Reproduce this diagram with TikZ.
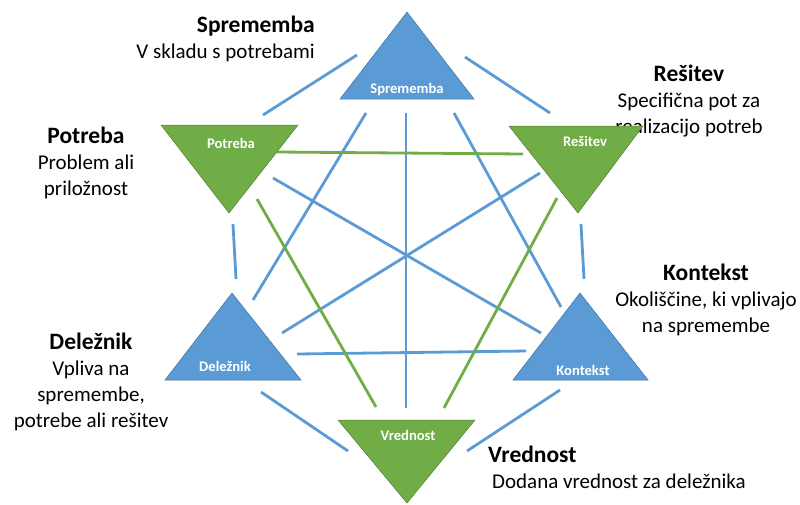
\documentclass[tikz,border=0pt]{standalone}
\usepackage{fontspec}
\setmainfont{Carlito}
\usetikzlibrary{positioning}
\definecolor{triblue}{HTML}{5B9BD5}
\definecolor{triblueline}{HTML}{41719C}
\definecolor{trigreen}{HTML}{70AD47}
\definecolor{trigreenline}{HTML}{507E32}
\newcommand{\head}[1]{{\fontsize{23.5}{26}\selectfont\bfseries #1}}
\tikzset{
  bline/.style={triblue, line width=2.8pt},
  gline/.style={trigreen, line width=2.8pt},
  btri/.style={fill=triblue, draw=triblueline, line width=0.5pt},
  gtri/.style={fill=trigreen, draw=trigreenline, line width=0.5pt},
  trilabel/.style={text=white, font=\fontsize{14.6}{16}\selectfont\bfseries, inner sep=0pt, anchor=base},
  note/.style={font=\fontsize{21}{26}\selectfont, inner sep=0pt, anchor=base}
}
\begin{document}
\begin{tikzpicture}[x=1pt,y=-1pt]
 %the change hexagon
  \useasboundingbox (0,0) rectangle (800,504);
  %notes (base = last line)
    \node[note, anchor=base east, align=right] (nSpr) at (315,58) {\head{Sprememba}\\V skladu s potrebami};
    \node[note, align=center] (nPot) at (86,195) {\head{Potreba}\\Problem ali\\priložnost};
    \node[note, align=center] (nRes) at (689,133) {\head{Rešitev}\\Specifična pot za\\realizacijo potreb};
    \node[note, align=center] (nKon) at (706,332) {\head{Kontekst}\\Okoliščine, ki vplivajo\\na spremembe};
    \node[note, align=center] (nDel) at (91,427) {\head{Deležnik}\\Vpliva na\\spremembe,\\potrebe ali rešitev};
    \node[note, anchor=base west, align=left] (nVre) at (488,488) {\head{Vrednost}\\\hspace*{4pt}Dodana vrednost za deležnika};
  %line ends
    \coordinate (sp-po) at (357,55);  \coordinate (po-sp) at (263,115);
    \coordinate (sp-re) at (465,57);  \coordinate (re-sp) at (550,113);
    \coordinate (po-de) at (233,224); \coordinate (de-po) at (236,279);
    \coordinate (re-ko) at (581,224); \coordinate (ko-re) at (584,279);
    \coordinate (de-vr) at (261,392); \coordinate (vr-de) at (348,451);
    \coordinate (ko-vr) at (560,390); \coordinate (vr-ko) at (467,451);
    \coordinate (sp-de) at (366,113); \coordinate (de-sp) at (253,300);
    \coordinate (sp-vr) at (406,113); \coordinate (vr-sp) at (406,408);
    \coordinate (sp-ko) at (454,113); \coordinate (ko-sp) at (561,307);
    \coordinate (po-ko) at (273,178); \coordinate (ko-po) at (541,333);
    \coordinate (re-de) at (540,173); \coordinate (de-re) at (282,333);
    \coordinate (de-ko) at (297,354); \coordinate (ko-de) at (526,351);
    \coordinate (po-re) at (277,152); \coordinate (re-po) at (523,154);
    \coordinate (po-vr) at (257,199); \coordinate (vr-po) at (376,407);
    \coordinate (re-vr) at (557,198); \coordinate (vr-re) at (444,408);
  %draw edges
    \draw[bline] (sp-po) -- (po-sp);
    \draw[bline] (sp-re) -- (re-sp);
    \draw[bline] (po-de) -- (de-po);
    \draw[bline] (re-ko) -- (ko-re);
    \draw[bline] (de-vr) -- (vr-de);
    \draw[bline] (ko-vr) -- (vr-ko);
    \draw[bline] (sp-de) -- (de-sp);
    \draw[bline] (sp-vr) -- (vr-sp);
    \draw[bline] (sp-ko) -- (ko-sp);
    \draw[bline] (po-ko) -- (ko-po);
    \draw[bline] (re-de) -- (de-re);
    \draw[bline] (de-ko) -- (ko-de);
    \draw[gline] (po-re) -- (re-po);
    \draw[gline] (po-vr) -- (vr-po);
    \draw[gline] (re-vr) -- (vr-re);
  %draw triangles
    \draw[btri] (407,12) -- (474,99) -- (340,99) -- cycle;
    \draw[gtri] (161,125) -- (298,125) -- (229,213) -- cycle;
    \draw[gtri] (509,126) -- (643,126) -- (578,213) -- cycle;
    \draw[btri] (232,293) -- (301,380) -- (165,380) -- cycle;
    \draw[btri] (580,293) -- (648,380) -- (513,380) -- cycle;
    \draw[gtri] (338,420) -- (475,420) -- (407,503) -- cycle;
  %labels
    \node[trilabel] (spr) at (407,93) {Sprememba};
    \node[trilabel] (pot) at (231,148) {Potreba};
    \node[trilabel] (res) at (585,146) {Rešitev};
    \node[trilabel] (del) at (225,371) {Deležnik};
    \node[trilabel] (kon) at (583,375) {Kontekst};
    \node[trilabel] (vre) at (408,440) {Vrednost};
\end{tikzpicture}
\end{document}
